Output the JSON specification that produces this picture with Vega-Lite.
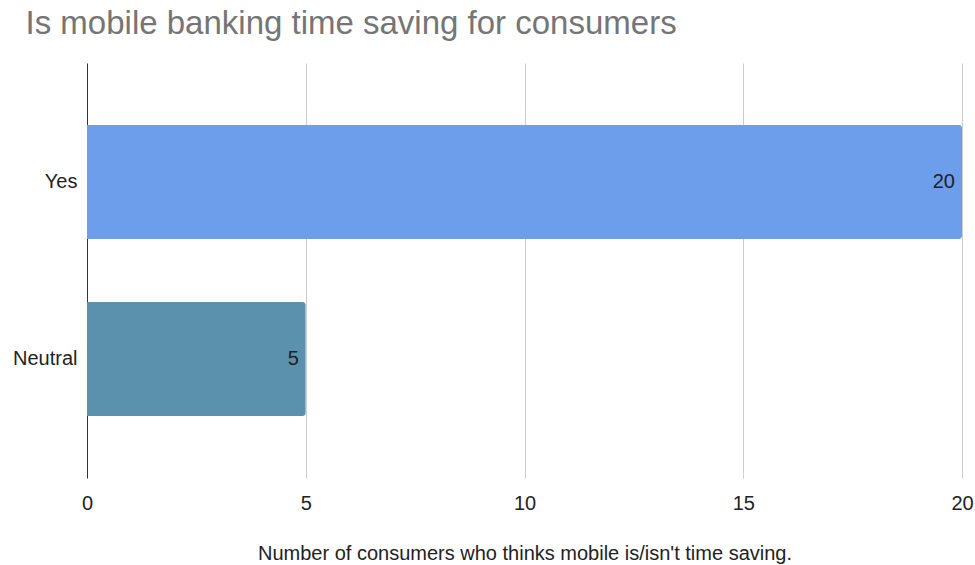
{
  "$schema": "https://vega.github.io/schema/vega-lite/v6.json",
  "autosize": "none",
  "width": 875,
  "height": 415,
  "padding": {"left": 87, "top": 63, "right": 13, "bottom": 87},
  "background": "white",
  "config": {
    "font": "Liberation Sans",
    "view": {"stroke": null}
  },
  "title": {
    "text": "Is mobile banking time saving for consumers",
    "anchor": "start",
    "frame": "bounds",
    "dx": 13,
    "dy": 30,
    "fontSize": 33,
    "font": "Liberation Sans",
    "fontWeight": "normal",
    "color": "#757575",
    "baseline": "alphabetic",
    "offset": 26
  },
  "data": {
    "values": [
      {"answer": "Yes", "count": 20},
      {"answer": "Neutral", "count": 5}
    ]
  },
  "encoding": {
    "y": {
      "field": "answer",
      "type": "nominal",
      "sort": ["Yes", "Neutral"],
      "scale": {"paddingInner": 0.356, "paddingOuter": 0.35},
      "axis": {
        "title": null,
        "domainColor": "#333333",
        "domainWidth": 1,
        "ticks": false,
        "labelFontSize": 20,
        "labelColor": "#222222",
        "labelPadding": 10,
        "grid": false
      }
    },
    "x": {
      "field": "count",
      "type": "quantitative",
      "scale": {"domain": [0, 20], "nice": false},
      "axis": {
        "title": "Number of consumers who thinks mobile is/isn't time saving.",
        "titleFontSize": 20,
        "titleFontWeight": "normal",
        "titleColor": "#222222",
        "titlePadding": 30,
        "values": [0, 5, 10, 15, 20],
        "labelFontSize": 20,
        "labelColor": "#222222",
        "labelPadding": 15,
        "labelFlush": false,
        "domain": false,
        "ticks": false,
        "grid": true,
        "gridColor": "#cccccc",
        "gridWidth": 1
      }
    }
  },
  "layer": [
    {
      "mark": {"type": "bar", "cornerRadiusEnd": 3},
      "encoding": {
        "color": {
          "field": "answer",
          "type": "nominal",
          "scale": {"domain": ["Yes", "Neutral"], "range": ["#6d9eeb", "#5b91ad"]},
          "legend": null
        }
      }
    },
    {
      "mark": {"type": "text", "align": "right", "baseline": "middle", "dx": -7, "fontSize": 20, "color": "#222222"},
      "encoding": {
        "text": {"field": "count", "type": "quantitative"}
      }
    }
  ]
}
